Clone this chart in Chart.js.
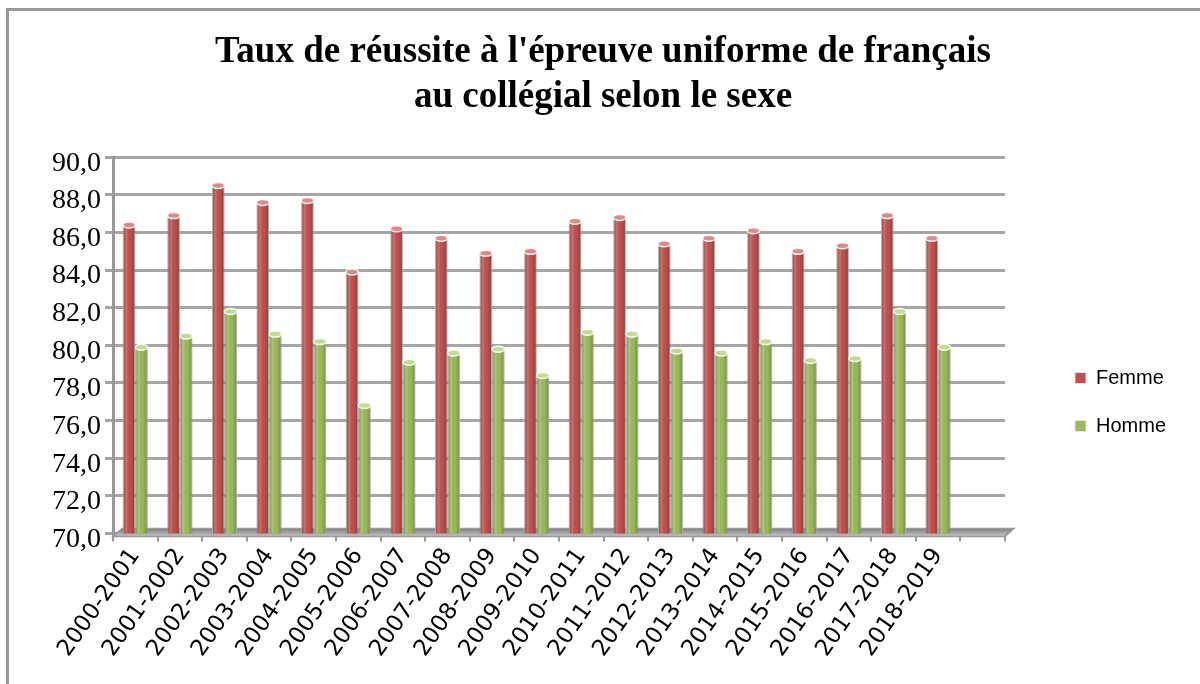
<!DOCTYPE html>
<html>
<head>
<meta charset="utf-8">
<script src="https://cdn.jsdelivr.net/npm/chart.js@4.4.1/dist/chart.umd.min.js"></script>
<style>
    body { margin: 0; background: #fff; }
    #wrap { position: relative; width: 1200px; height: 684px; }
    #frame { position: absolute; left: 6px; top: 8px; right: 0; bottom: 0; border-left: 3px solid #999; border-top: 3px solid #999; }
</style>
</head>
<body>
<div id="wrap">
    <div id="frame"></div>
    <canvas id="tauxChart"></canvas>
</div>
<script>
const annees = ['2000-2001', '2001-2002', '2002-2003', '2003-2004', '2004-2005', '2005-2006', '2006-2007',
    '2007-2008', '2008-2009', '2009-2010', '2010-2011', '2011-2012', '2012-2013', '2013-2014',
    '2014-2015', '2015-2016', '2016-2017', '2017-2018', '2018-2019'];
const femme = [86.4, 86.9, 88.5, 87.6, 87.7, 83.9, 86.2, 85.7, 84.9, 85.0, 86.6, 86.8, 85.4, 85.7, 86.1, 85.0, 85.3, 86.9, 85.7];
const homme = [79.9, 80.5, 81.8, 80.6, 80.2, 76.8, 79.1, 79.6, 79.8, 78.4, 80.7, 80.6, 79.7, 79.6, 80.2, 79.2, 79.3, 81.8, 79.9];

// un emplacement vide a droite, comme dans le graphique Excel
const labels = annees.concat(['']);

// plancher 3D sous les barres
const floorPlugin = {
    id: 'floor',
    beforeDatasetsDraw(chart) {
        const a = chart.chartArea;
        const c = chart.ctx;
        c.save();
        c.beginPath();
        c.moveTo(a.left, a.bottom + 3);
        c.lineTo(a.right, a.bottom + 3);
        c.lineTo(a.right + 9, a.bottom - 5);
        c.lineTo(a.left + 9, a.bottom - 5);
        c.closePath();
        const g = c.createLinearGradient(0, a.bottom - 5, 0, a.bottom + 3);
        g.addColorStop(0, '#7f7f7f');
        g.addColorStop(1, '#c5c5c5');
        c.fillStyle = g;
        c.fill();
        c.strokeStyle = '#999';
        c.lineWidth = 1.5;
        c.stroke();
        c.restore();
    }
};

// effet cylindre sur chaque barre
const cylinderPlugin = {
    id: 'cylinder',
    afterDatasetsDraw(chart) {
        const c = chart.ctx;
        const bottom = chart.chartArea.bottom;
        const tops = ['#e08a87', '#c3db8e'];
        chart.data.datasets.forEach(function(ds, i) {
            chart.getDatasetMeta(i).data.forEach(function(bar) {
                const w = bar.width;
                const x0 = bar.x - w / 2;
                const base = Math.min(bar.base, bottom);
                const g = c.createLinearGradient(x0, 0, x0 + w, 0);
                g.addColorStop(0, 'rgba(0,0,0,0.28)');
                g.addColorStop(0.3, 'rgba(255,255,255,0.18)');
                g.addColorStop(0.6, 'rgba(0,0,0,0)');
                g.addColorStop(1, 'rgba(0,0,0,0.25)');
                c.save();
                c.fillStyle = g;
                c.fillRect(x0, bar.y, w, base - bar.y);
                c.beginPath();
                c.ellipse(bar.x, bar.y, w / 2, 3, 0, 0, Math.PI * 2);
                c.fillStyle = tops[i];
                c.fill();
                c.strokeStyle = 'rgba(255,255,255,0.9)';
                c.lineWidth = 1.5;
                c.stroke();
                c.restore();
            });
        });
    }
};

// legende et titre decales comme dans l'original
const boxShift = {
    id: 'boxShift',
    afterLayout(chart) {
        const lg = chart.legend;
        lg.left += 42; lg.right += 42;
        lg.top += 70; lg.bottom += 70;
        const tb = chart.titleBlock;
        tb.left += 12; tb.right += 12;
    }
};

const ctx = document.getElementById('tauxChart').getContext('2d');
const tauxChart = new Chart(ctx, {
    type: 'bar',
    data: {
        labels: labels,
        datasets: [{
            label: 'Femme',
            data: femme,
            backgroundColor: '#c0504d',
            borderColor: 'rgba(230,230,230,0.9)',
            borderWidth: 1,
            categoryPercentage: 0.56,
            barPercentage: 1.0
        }, {
            label: 'Homme',
            data: homme,
            backgroundColor: '#9bbb59',
            borderColor: 'rgba(230,230,230,0.9)',
            borderWidth: 1,
            categoryPercentage: 0.56,
            barPercentage: 1.0
        }]
    },
    options: {
        responsive: true,
        maintainAspectRatio: false,
        animation: false,
        layout: {
            padding: { left: 48, right: 66, top: 0, bottom: 20 }
        },
        plugins: {
            title: {
                display: true,
                text: ["Taux de réussite à l'épreuve uniforme de français", 'au collégial selon le sexe'],
                color: '#000',
                font: { family: 'Liberation Serif', size: 37, weight: 'bold', lineHeight: 1.22 },
                padding: { top: 30, bottom: 37 }
            },
            legend: {
                position: 'right',
                labels: {
                    color: '#000',
                    font: { family: 'Liberation Sans', size: 20 },
                    boxWidth: 11,
                    boxHeight: 11,
                    padding: 28
                }
            },
            tooltip: { enabled: false }
        },
        scales: {
            x: {
                grid: {
                    display: true,
                    drawOnChartArea: false,
                    drawTicks: true,
                    tickLength: 8,
                    color: '#999',
                    lineWidth: 2
                },
                border: { color: '#999', width: 2 },
                ticks: {
                    color: '#000',
                    font: { family: 'DejaVu Sans', size: 23 },
                    autoSkip: false,
                    maxRotation: 55,
                    minRotation: 55,
                    padding: 2
                }
            },
            y: {
                min: 70,
                max: 90,
                grid: {
                    color: '#a6a6a6',
                    lineWidth: 3,
                    tickLength: 8
                },
                border: { color: '#999', width: 3 },
                ticks: {
                    stepSize: 2,
                    color: '#000',
                    font: { family: 'Liberation Serif', size: 28 },
                    padding: 4,
                    labelOffset: 6,
                    callback: function(value) {
                        return value.toFixed(1).replace('.', ',');
                    }
                }
            }
        }
    },
    plugins: [floorPlugin, cylinderPlugin, boxShift]
});
</script>
</body>
</html>
